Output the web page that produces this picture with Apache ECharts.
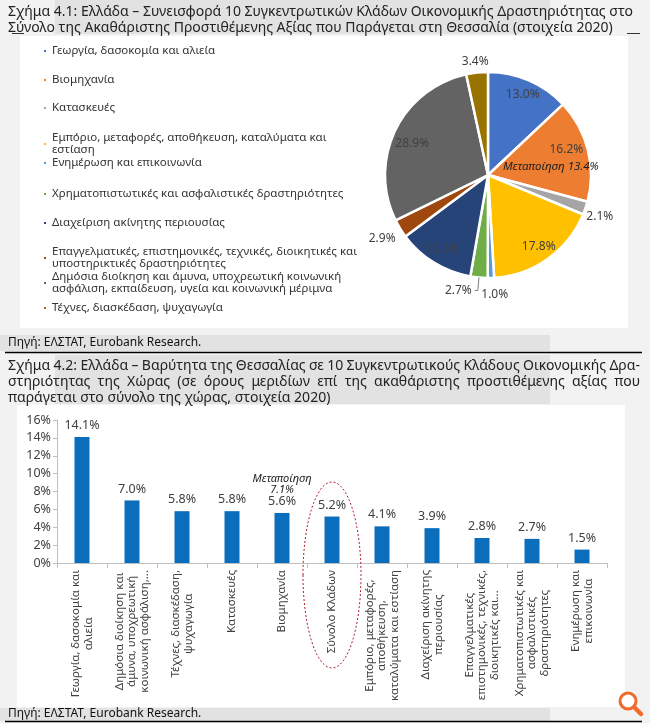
<!DOCTYPE html>
<html><head><meta charset="utf-8">
<script src="https://cdn.jsdelivr.net/npm/echarts@6/dist/echarts.min.js"></script>
<style>html,body{margin:0;padding:0;background:#f2f2f2}#c{width:650px;height:723px}</style>
</head><body><div id="c"></div>
<script>
// ---------- DATA ----------
const title1Lines = ['Σχήμα 4.1: Ελλάδα – Συνεισφορά 10 Συγκεντρωτικών Κλάδων Οικονομικής Δραστηριότητας στο',
  'Σύνολο της Ακαθάριστης Προστιθέμενης Αξίας που Παράγεται στη Θεσσαλία (στοιχεία 2020)'];
const title2Lines = ['Σχήμα 4.2: Ελλάδα – Βαρύτητα της Θεσσαλίας σε 10 Συγκεντρωτικούς Κλάδους Οικονομικής Δρα-',
  'στηριότητας της Χώρας (σε όρους μεριδίων επί της ακαθάριστης προστιθέμενης αξίας που',
  'παράγεται στο σύνολο της χώρας, στοιχεία 2020)'];
const sourceText = 'Πηγή: ΕΛΣΤΑΤ, Eurobank Research.';

const pieNames = ['Γεωργία, δασοκομία και αλιεία','Βιομηχανία','Κατασκευές',
  'Εμπόριο, μεταφορές, αποθήκευση, καταλύματα και εστίαση','Ενημέρωση και επικοινωνία',
  'Χρηματοπιστωτικές και ασφαλιστικές δραστηριότητες','Διαχείριση ακίνητης περιουσίας',
  'Επαγγελματικές, επιστημονικές, τεχνικές, διοικητικές και υποστηρικτικές δραστηριότητες',
  'Δημόσια διοίκηση και άμυνα, υποχρεωτική κοινωνική ασφάλιση, εκπαίδευση, υγεία και κοινωνική μέριμνα',
  'Τέχνες, διασκέδαση, ψυχαγωγία'];
const pieLegendLabels = ['Γεωργία, δασοκομία και αλιεία','Βιομηχανία','Κατασκευές',
  'Εμπόριο, μεταφορές, αποθήκευση, καταλύματα και\nεστίαση','Ενημέρωση και επικοινωνία',
  'Χρηματοπιστωτικές και ασφαλιστικές δραστηριότητες','Διαχείριση ακίνητης περιουσίας',
  'Επαγγελματικές, επιστημονικές, τεχνικές, διοικητικές και\nυποστηρικτικές δραστηριότητες',
  'Δημόσια διοίκηση και άμυνα, υποχρεωτική κοινωνική\nασφάλιση, εκπαίδευση, υγεία και κοινωνική μέριμνα',
  'Τέχνες, διασκέδαση, ψυχαγωγία'];
const pieValues = [13.0, 16.2, 2.1, 17.8, 1.0, 2.7, 12.1, 2.9, 28.9, 3.4];
const pieNoteLabel = 'Μεταποίηση';
const pieNoteValue = 13.4;   // attached to Βιομηχανία slice
const pieNoteIndex = 1;

const barCategories = ['Γεωργία, δασοκομία και\nαλιεία',
  'Δημόσια διοίκηση και\nάμυνα, υποχρεωτική\nκοινωνική ασφάλιση,...',
  'Τέχνες, διασκέδαση,\nψυχαγωγία','Κατασκευές','Βιομηχανία','Σύνολο Κλάδων',
  'Εμπόριο, μεταφορές,\nαποθήκευση,\nκαταλύματα και εστίαση',
  'Διαχείριση ακίνητης\nπεριουσίας',
  'Επαγγελματικές\nεπιστημονικές, τεχνικές,\nδιοικητικές και...',
  'Χρηματοπιστωτικές και\nασφαλιστικές\nδραστηριότητες',
  'Ενημέρωση και\nεπικοινωνία'];
const barValues = [14.1, 7.0, 5.8, 5.8, 5.6, 5.2, 4.1, 3.9, 2.8, 2.7, 1.5];
const barNoteLabel = 'Μεταποίηση';
const barNoteValue = 7.1;    // attached to Βιομηχανία bar
const barNoteIndex = 4;
const barHighlightIndex = 5; // Σύνολο Κλάδων (circled)
const yTicks = {min: 0, max: 16, interval: 2};

// ---------- STYLE / LAYOUT ----------
const FONT = '"Noto Sans", "DejaVu Sans", sans-serif';
const pieColors = ['#4472C4','#ED7D31','#A5A5A5','#FFC000','#5B9BD5','#70AD47','#264478','#9E480E','#636363','#997300'];
const legendTops = [45, 74, 102, 132, 157, 188, 217, 246, 271, 302];
const outerLabelLen = [0, 0, 3, 0, 13, 13, 0, 4, 0, 3];
const outerLabelLen2 = [0, 0, 0, 0, 0, 3, 0, 0, 0, 0];
const pieLabelNudge = [[0,0],[-22,3],[-5,7],[0,0],[-13,4],[0,0],[0,0],[2,8],[3,7],[15,-8]];
const pieCenter = [488, 175];
const pieR = 103;
const BAR_BLUE = '#0A6EBD';
const TXT = '#404040';

const chart = echarts.init(document.getElementById('c'), null, {renderer: 'canvas'});

function txt(text, x, y, font, fill, align) {
  return {type: 'text', silent: true, z: 10,
    style: {text, x, y, font, fill: fill || '#222', align: align || 'left', verticalAlign: 'middle',
      textAlign: align || 'left', textVerticalAlign: 'middle'}};
}
const measureCtx = document.createElement('canvas').getContext('2d');
function justified(text, y, x0, x1, font, fill) {
  measureCtx.font = font;
  const words = text.split(' ');
  const widths = words.map(w => measureCtx.measureText(w).width);
  const total = widths.reduce((a, b) => a + b, 0);
  const gap = Math.max(2.5, (x1 - x0 - total) / (words.length - 1));
  let x = x0;
  return words.map((w, i) => { const e = txt(w, x, y, font, fill); x += widths[i] + gap; return e; });
}
function rect(x, y, w, h, fill) {
  return {type: 'rect', silent: true, z: 0, shape: {x, y, width: w, height: h}, style: {fill}};
}
function line(x1, y1, x2, y2, stroke, lw) {
  return {type: 'line', silent: true, z: 5, shape: {x1, y1, x2, y2}, style: {stroke, lineWidth: lw}};
}

const titleFont = '14px ' + FONT;
const srcFont = '12px ' + FONT;
const ICON = '#F26B2A';
let graphics = [
  rect(55, 0, 495, 34, '#e2e2e2'),
  rect(20, 36, 608, 292, '#ffffff'),
  rect(0, 335, 550, 16, '#e2e2e2'),
  rect(55, 355, 495, 49, '#e2e2e2'),
  rect(17, 405, 608, 302, '#ffffff'),
  rect(0, 708, 550, 13, '#e2e2e2'),
  line(12, 33.5, 24, 33.5, '#333', 1),
  line(627, 33.5, 640, 33.5, '#333', 1),
  line(5, 352.5, 642, 352.5, '#000', 1.5),
  line(5, 721.5, 642, 721.5, '#000', 1.5),
  txt(title1Lines[0], 8, 12, titleFont, '#222'),
  txt(title1Lines[1], 8, 28, titleFont, '#222'),
  txt(sourceText, 8, 343, srcFont, '#111'),
  txt(sourceText, 8, 714, srcFont, '#111'),
  ...justified(title2Lines[0], 366, 8, 640, titleFont, '#222'),
  ...justified(title2Lines[1], 382, 8, 640, titleFont, '#222'),
  txt(title2Lines[2], 8, 398, titleFont, '#222'),
  // zoom icon
  {type: 'circle', silent: true, z: 10, shape: {cx: 628, cy: 701, r: 8}, style: {fill: '#fff', stroke: ICON, lineWidth: 3}},
  line(623.5, 701, 632.5, 701, ICON, 2.6),
  line(628, 696.5, 628, 705.5, ICON, 2.6),
  {type: 'line', silent: true, z: 10, shape: {x1: 634.5, y1: 707.5, x2: 641, y2: 714}, style: {stroke: ICON, lineWidth: 4.5, lineCap: 'round'}}
];

const pieMainData = pieNames.map((n, i) => ({name: n, value: pieValues[i], itemStyle: {color: pieColors[i]}}));
const pieLabelData = pieNames.map((n, i) => {
  const inside = pieValues[i] >= 10;
  const d = {name: n, value: pieValues[i]};
  if (inside) {
    d.label = {position: 'inside'};
  } else {
    d.label = {position: 'outside'};
    d.labelLine = {show: outerLabelLen2[i] > 0, length: outerLabelLen[i], length2: outerLabelLen2[i],
      lineStyle: {color: '#7f7f7f', width: 1}};
  }
  return d;
});

const option = {
  backgroundColor: '#f2f2f2',
  animation: false,
  textStyle: {fontFamily: FONT},
  legend: pieNames.map((n, i) => ({
    data: [n], left: 42, top: legendTops[i], orient: 'vertical', padding: 0,
    icon: 'rect', itemWidth: 4, itemHeight: 4, selectedMode: false,
    formatter: name => pieLegendLabels[pieNames.indexOf(name)],
    textStyle: {fontSize: 11.5, lineHeight: 12, color: '#333', fontFamily: FONT}
  })),
  grid: {left: 57, right: 43, top: 420, bottom: 160, containLabel: false},
  xAxis: {
    type: 'category', data: barCategories, gridIndex: 0,
    axisLine: {show: true, lineStyle: {color: '#bfbfbf', width: 1}},
    axisTick: {show: true, alignWithLabel: false, length: 5, lineStyle: {color: '#bfbfbf'}},
    axisLabel: {interval: 0, rotate: 90, margin: 7,
      formatter: v => v.split('\n').map(l => '{c|' + l + '}').join('\n'),
      rich: {c: {align: 'center', fontSize: 11.5, lineHeight: 12.5, color: TXT, fontFamily: FONT}}},
    splitLine: {show: false}
  },
  yAxis: {
    type: 'value', gridIndex: 0, min: yTicks.min, max: yTicks.max, interval: yTicks.interval,
    axisLine: {show: true, lineStyle: {color: '#bfbfbf', width: 1}},
    axisTick: {show: true, length: 4, lineStyle: {color: '#bfbfbf'}},
    axisLabel: {formatter: '{value}%', fontSize: 12.5, color: TXT, margin: 6, fontFamily: FONT},
    splitLine: {show: false}
  },
  series: [
    {type: 'pie', name: 'slices', center: pieCenter, radius: [0, pieR], startAngle: 90, clockwise: true,
      silent: true, avoidLabelOverlap: false,
      itemStyle: {borderColor: '#fff', borderWidth: 2.5},
      label: {show: false}, labelLine: {show: false}, data: pieMainData},
    {type: 'pie', name: 'labels', center: pieCenter, radius: [66, pieR], startAngle: 90, clockwise: true,
      silent: true, avoidLabelOverlap: false, z: 5,
      itemStyle: {color: 'rgba(0,0,0,0)', borderWidth: 0},
      labelLayout: p => ({dx: pieLabelNudge[p.dataIndex][0], dy: pieLabelNudge[p.dataIndex][1]}),
      label: {show: true, fontSize: 12, color: TXT, fontFamily: FONT, distanceToLabelLine: 3,
        formatter: p => p.dataIndex === pieNoteIndex
          ? '{v|' + p.value.toFixed(1) + '%}\n{n|' + pieNoteLabel + ' ' + pieNoteValue.toFixed(1) + '%}'
          : p.value.toFixed(1) + '%',
        rich: {v: {fontSize: 12, color: TXT, padding: [0, 0, 0, 31], lineHeight: 20},
               n: {fontSize: 11.5, color: '#222', fontStyle: 'italic', lineHeight: 14}}},
      data: pieLabelData},
    {type: 'bar', xAxisIndex: 0, yAxisIndex: 0, data: barValues, barWidth: 15,
      itemStyle: {color: BAR_BLUE},
      label: {show: true, position: 'top', distance: 5, fontSize: 12.5, color: TXT, fontFamily: FONT,
        formatter: p => p.dataIndex === barNoteIndex
          ? '{n|' + barNoteLabel + '}\n{n|' + barNoteValue.toFixed(1) + '%}\n' + p.value.toFixed(1) + '%'
          : p.value.toFixed(1) + '%',
        rich: {n: {fontSize: 11, fontStyle: 'italic', color: '#222', lineHeight: 11, align: 'center'}}}}
  ],
  graphic: {elements: graphics}
};
chart.setOption(option);

// Annotation ellipse around the "Σύνολο Κλάδων" category, placed via the axis scales
const base = chart.convertToPixel({gridIndex: 0}, [barHighlightIndex, 0]);
const ell = {type: 'ellipse', silent: true, z: 20,
  shape: {cx: base[0], cy: base[1] + 12, rx: 29, ry: 93},
  style: {fill: 'none', stroke: '#B02030', lineWidth: 1, lineDash: [2, 2]}};
option.graphic = {elements: graphics.concat([ell])};
chart.clear();
chart.setOption(option, true);
</script></body></html>
